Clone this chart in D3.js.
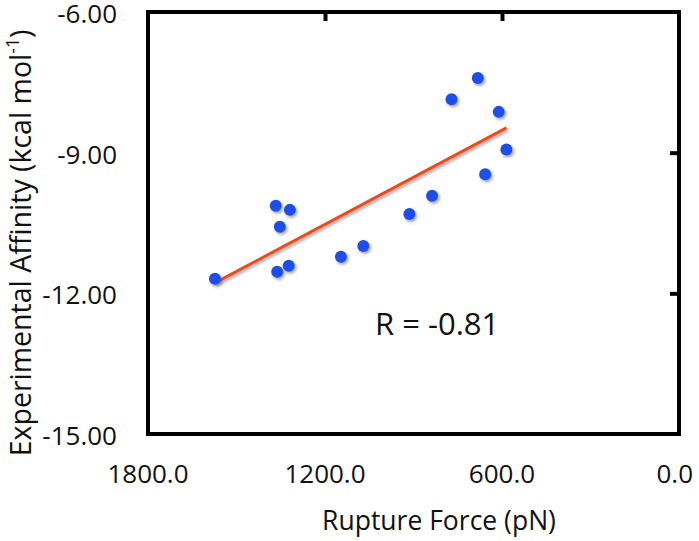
<!DOCTYPE html>
<html>
<head>
<meta charset="utf-8">
<script src="https://cdn.jsdelivr.net/npm/d3@7"></script>
<style>
  html, body { margin: 0; padding: 0; background: #fff; }
  text { font-family: "Open Sans", Lato, sans-serif; fill: #111; }
</style>
</head>
<body>
<svg id="chart" width="699" height="541"></svg>
<script>
// Data
const ruptureForce = [1573, 1367, 1319, 1353, 1362, 1323, 1146, 1070, 682, 771, 611, 585, 657, 837, 914];
const affinity = [-11.69, -10.13, -10.22, -10.58, -11.54, -11.41, -11.22, -10.99, -7.41, -7.86, -8.13, -8.93, -9.46, -9.92, -10.31];
const xTicks = [1800, 1200, 600, 0];
const yTicks = [-6, -9, -12, -15];
const xTitle = "Rupture Force (pN)";
const yTitle = "Experimental Affinity (kcal mol";
const rLabel = "R = -0.81";

const W = 699, H = 541;
const plot = { left: 148, right: 679, top: 12, bottom: 434 };

const svg = d3.select("#chart");
const defs = svg.append("defs");
const f = defs.append("filter").attr("id", "shadow")
  .attr("x", "-20%").attr("y", "-50%").attr("width", "140%").attr("height", "200%");
f.append("feDropShadow").attr("dx", 1.5).attr("dy", 2).attr("stdDeviation", 1.5)
  .attr("flood-color", "#555").attr("flood-opacity", 0.55);

const x = d3.scaleLinear().domain([1800, 0]).range([plot.left, plot.right]);
const y = d3.scaleLinear().domain([-15, -6]).range([plot.bottom, plot.top]);

// plot box
svg.append("rect")
  .attr("x", plot.left).attr("y", plot.top)
  .attr("width", plot.right - plot.left).attr("height", plot.bottom - plot.top)
  .attr("fill", "none").attr("stroke", "#000").attr("stroke-width", 4);

// inner ticks on top (x axis) and right (y axis)
const topAxis = svg.append("g").attr("transform", `translate(0,${plot.top})`)
  .call(d3.axisTop(x).tickValues(xTicks.filter(v => v !== 1800 && v !== 0)).tickSize(-9).tickFormat(""));
topAxis.select(".domain").remove();
topAxis.selectAll("line").attr("stroke", "#000").attr("stroke-width", 4);

const rightAxis = svg.append("g").attr("transform", `translate(${plot.right},0)`)
  .call(d3.axisRight(y).tickValues(yTicks.filter(v => v !== -6 && v !== -15)).tickSize(-9).tickFormat(""));
rightAxis.select(".domain").remove();
rightAxis.selectAll("line").attr("stroke", "#000").attr("stroke-width", 4);

// y tick labels (left, low position)
svg.append("g").selectAll("text").data(yTicks).join("text")
  .attr("x", 117).attr("y", d => y(d) + 1.5)
  .attr("dy", "0.36em")
  .attr("text-anchor", "end")
  .attr("font-size", 26)
  .text(d => d.toFixed(2));

// x tick labels (bottom)
const xl = svg.append("g").selectAll("text").data(xTicks).join("text")
  .attr("x", d => x(d)).attr("y", 474)
  .attr("dy", "0.36em")
  .attr("text-anchor", "middle")
  .attr("font-size", 26)
  .text(d => d.toFixed(1));
// keep labels inside the canvas
xl.each(function() {
  const b = this.getBBox();
  if (b.x + b.width > W - 6) {
    d3.select(this).attr("x", +d3.select(this).attr("x") - (b.x + b.width - (W - 6)));
  }
});

// axis titles
svg.append("text")
  .attr("x", 439).attr("y", 530)
  .attr("text-anchor", "middle")
  .attr("font-size", 26.5)
  .text(xTitle);

const yt = svg.append("text")
  .attr("transform", `translate(31,243) rotate(-90)`)
  .attr("text-anchor", "middle")
  .attr("font-size", 28.5);
yt.append("tspan").text(yTitle);
yt.append("tspan").attr("font-size", 17.5).attr("dy", -12).text("-1");
yt.append("tspan").attr("dy", 12).text(")");

// regression line computed from the data
const mx = d3.mean(ruptureForce), my = d3.mean(affinity);
let sxy = 0, sxx = 0;
ruptureForce.forEach((v, i) => { sxy += (v - mx) * (affinity[i] - my); sxx += (v - mx) ** 2; });
const slope = sxy / sxx, icpt = my - slope * mx;
const [xmin, xmax] = d3.extent(ruptureForce);
svg.append("line")
  .attr("x1", x(xmax)).attr("y1", y(icpt + slope * xmax))
  .attr("x2", x(xmin)).attr("y2", y(icpt + slope * xmin))
  .attr("stroke", "#F04A1E").attr("stroke-width", 3)
  .attr("filter", "url(#shadow)");

// points
svg.append("g").attr("filter", "url(#shadow)")
  .selectAll("circle").data(ruptureForce.map((v, i) => [v, affinity[i]])).join("circle")
  .attr("cx", d => x(d[0])).attr("cy", d => y(d[1]))
  .attr("r", 6)
  .attr("fill", "#1F4FEA");

// R annotation
svg.append("text")
  .attr("x", 375).attr("y", 335)
  .attr("font-size", 31)
  .text(rLabel);
</script>
</body>
</html>
